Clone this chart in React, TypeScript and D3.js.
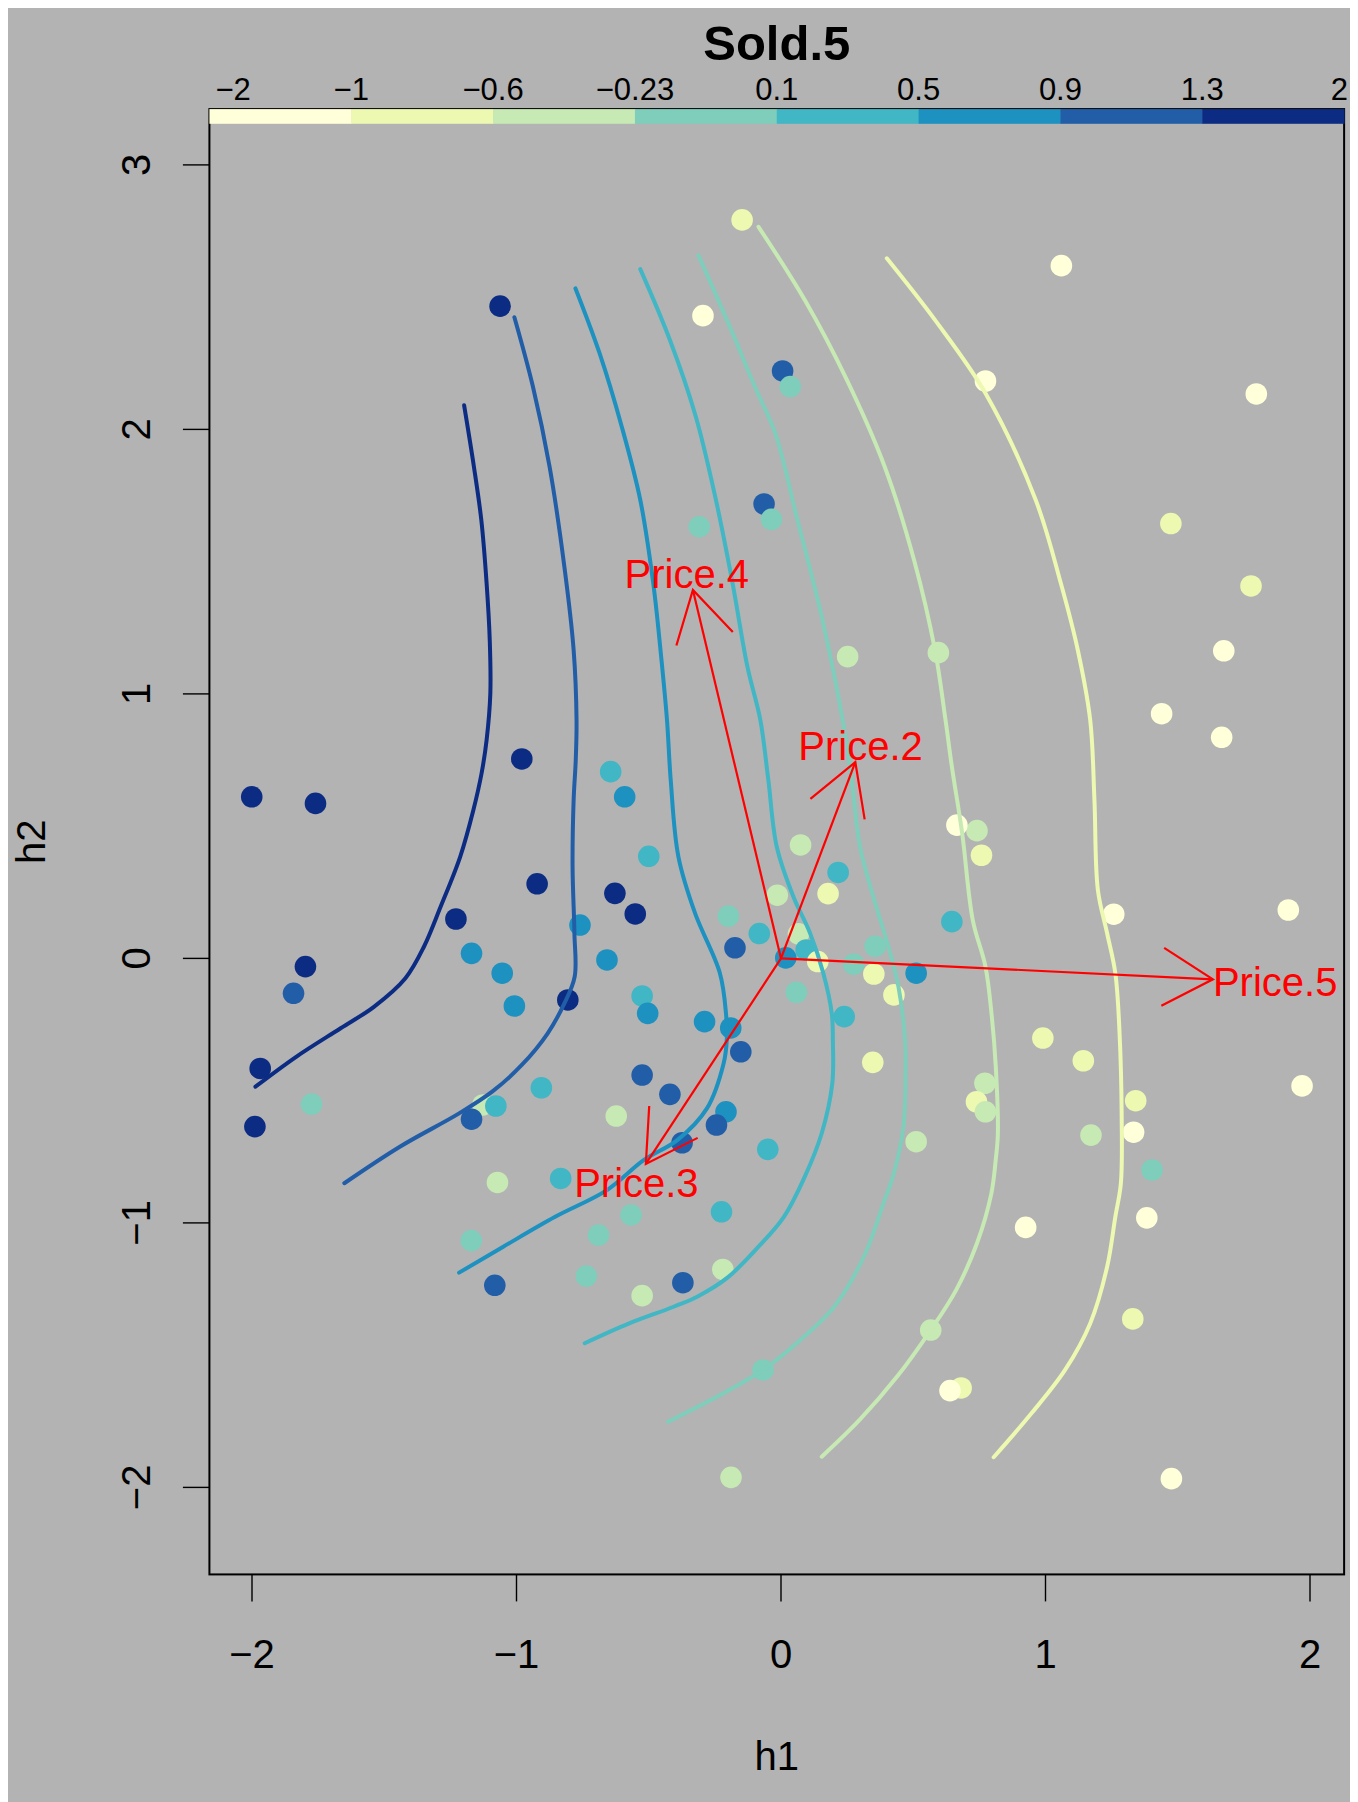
import React from "react";
import * as d3 from "d3";

// ---------- data ----------
const legendBreaks = [-2, -1, -0.6, -0.23, 0.1, 0.5, 0.9, 1.3, 2];
const legendLabels = ["−2", "−1", "−0.6", "−0.23", "0.1", "0.5", "0.9", "1.3", "2"];
const palette = ["#FFFFD9", "#EDF8B1", "#C7E9B4", "#7FCDBB", "#41B6C4", "#1D91C0", "#225EA8", "#0C2C84"];

const xTicks = [-2, -1, 0, 1, 2];
const yTicks = [-2, -1, 0, 1, 2, 3];

// observations: h1, h2 and colour class (1..8) of Sold.5
const h1 = [
  -1.062, -0.147, -0.295, 0.006, 0.035, -0.309, -0.064, -0.036, 1.060, 0.773,
  1.797, 1.474, 1.777, 0.252, 0.595, 1.674, 1.439, -0.980, -2.001, -1.760,
  -0.644, -0.591, -0.500, -0.922, -0.628, -0.551, -1.229, -0.760, -0.199, -0.082,
  -0.174, -1.170, -0.658, -1.798, -1.054, -1.843, -0.806, -0.525, -1.008, -0.504,
  -0.289, -0.190, -0.152, -1.969, -0.525, -0.906, -0.420, -1.775, -1.127, -1.078,
  -0.623, -0.208, -0.244, -1.170, -1.989, -0.374, -0.050, -1.072, -0.833, 1.666,
  0.741, 0.665, 0.758, 0.074, 0.216, 0.178, -0.014, 0.066, 0.095, 0.018,
  0.139, 1.258, 1.918, 0.356, 0.275, 0.351, 0.511, 0.646, 0.058, 0.427,
  0.239, 0.990, 1.143, 0.347, 1.970, 0.771, 0.739, 0.773, 1.341, 1.333,
  1.172, 0.511, 1.403, -0.225, -0.567, -0.690, -1.171, -0.220, -0.736, -1.082,
  -0.371, -0.525, -0.068, -0.189, 0.925, 1.383, 1.330, 0.566, 0.681, 0.639,
  1.476,
];
const h2 = [
  2.466, 2.792, 2.430, 2.221, 2.162, 1.632, 1.718, 1.660, 2.619, 2.183,
  2.134, 1.644, 1.408, 1.141, 1.156, 1.163, 0.925, 0.754, 0.611, 0.586,
  0.706, 0.611, 0.386, 0.282, 0.246, 0.168, 0.149, 0.126, 0.160, 0.094,
  0.040, 0.019, -0.006, -0.031, -0.056, -0.132, -0.157, -0.142, -0.180, -0.208,
  -0.239, -0.263, -0.353, -0.416, -0.441, -0.489, -0.514, -0.551, -0.554, -0.558,
  -0.596, -0.580, -0.630, -0.608, -0.636, -0.697, -0.722, -0.847, -0.832, 0.836,
  0.483, 0.504, 0.390, 0.429, 0.325, 0.245, 0.239, 0.093, 0.032, 0.002,
  -0.012, 0.167, 0.183, 0.046, -0.022, -0.059, -0.056, 0.139, -0.128, -0.138,
  -0.220, -0.301, -0.387, -0.393, -0.482, -0.472, -0.542, -0.580, -0.538, -0.657,
  -0.668, -0.693, -0.800, -0.958, -0.970, -1.046, -1.067, -1.176, -1.201, -1.236,
  -1.226, -1.275, -1.556, -1.962, -1.017, -0.981, -1.363, -1.405, -1.624, -1.634,
  -1.967,
];
const soldClass = [
  8, 2, 1, 7, 4, 4, 7, 4, 1, 1,
  1, 2, 2, 3, 3, 1, 1, 8, 8, 8,
  5, 6, 5, 8, 8, 8, 8, 6, 4, 5,
  7, 6, 6, 8, 6, 7, 8, 5, 6, 6,
  6, 6, 7, 8, 7, 5, 7, 4, 3, 5,
  3, 6, 7, 7, 8, 7, 5, 3, 5, 1,
  3, 1, 2, 3, 5, 2, 3, 3, 5, 6,
  2, 1, 1, 4, 4, 2, 6, 5, 4, 2,
  5, 2, 2, 2, 1, 3, 2, 3, 2, 1,
  3, 3, 4, 5, 4, 4, 4, 3, 4, 7,
  7, 3, 4, 3, 1, 1, 2, 3, 2, 1,
  1,
];

// contour lines of the fitted surface (level, colour class, path)
const contourLevels = [1.3, 0.9, 0.5, 0.1, -0.23, -0.6, -1];
const contourClass = [8, 7, 6, 5, 4, 3, 2];
const contour13: [number, number][] = [
  [-1.198, 2.091], [-1.161, 1.859], [-1.133, 1.657], [-1.113, 1.418], [-1.101, 1.200],
  [-1.099, 1.000], [-1.113, 0.826], [-1.132, 0.700], [-1.163, 0.561], [-1.213, 0.384],
  [-1.287, 0.195], [-1.350, 0.044], [-1.420, -0.075], [-1.539, -0.183], [-1.665, -0.264],
  [-1.833, -0.372], [-1.987, -0.485],
];
const contour09: [number, number][] = [
  [-1.008, 2.424], [-0.938, 2.162], [-0.875, 1.859], [-0.819, 1.481], [-0.784, 1.166],
  [-0.773, 0.901], [-0.776, 0.750], [-0.784, 0.599], [-0.788, 0.347], [-0.781, 0.095],
  [-0.780, -0.069], [-0.819, -0.170], [-0.882, -0.283], [-0.980, -0.403], [-1.092, -0.504],
  [-1.217, -0.586], [-1.441, -0.712], [-1.651, -0.850],
];
const contour05: [number, number][] = [
  [-0.777, 2.533], [-0.686, 2.288], [-0.602, 2.010], [-0.532, 1.733], [-0.483, 1.418],
  [-0.455, 1.160], [-0.431, 0.901], [-0.417, 0.675], [-0.388, 0.385], [-0.325, 0.171],
  [-0.231, -0.056], [-0.208, -0.208], [-0.205, -0.309], [-0.217, -0.397], [-0.280, -0.567],
  [-0.392, -0.687], [-0.518, -0.762], [-0.658, -0.876], [-0.854, -0.977], [-1.050, -1.090],
  [-1.217, -1.188],
];
const contour01: [number, number][] = [
  [-0.532, 2.606], [-0.420, 2.338], [-0.322, 2.048], [-0.246, 1.733], [-0.183, 1.418],
  [-0.127, 1.103], [-0.078, 0.901], [-0.048, 0.675], [-0.016, 0.422], [0.047, 0.233],
  [0.110, 0.095], [0.160, -0.056], [0.192, -0.208], [0.196, -0.309], [0.194, -0.472],
  [0.154, -0.661], [0.090, -0.825], [0.011, -0.977], [-0.085, -1.090], [-0.200, -1.205],
  [-0.315, -1.278], [-0.406, -1.317], [-0.574, -1.380], [-0.742, -1.455],
];
const contourM023: [number, number][] = [
  [-0.312, 2.658], [-0.190, 2.380], [-0.099, 2.162], [-0.020, 1.980], [0.059, 1.670],
  [0.154, 1.292], [0.233, 0.901], [0.267, 0.675], [0.299, 0.422], [0.349, 0.233],
  [0.406, 0.044], [0.444, -0.107], [0.469, -0.309], [0.471, -0.409], [0.463, -0.636],
  [0.423, -0.825], [0.392, -0.913], [0.313, -1.128], [0.201, -1.317], [0.059, -1.455],
  [-0.068, -1.556], [-0.211, -1.640], [-0.427, -1.752],
];
const contourM06: [number, number][] = [
  [-0.085, 2.766], [0.090, 2.489], [0.249, 2.187], [0.392, 1.859], [0.503, 1.506],
  [0.582, 1.166], [0.622, 0.901], [0.646, 0.725], [0.685, 0.473], [0.725, 0.145],
  [0.773, -0.031], [0.797, -0.220], [0.812, -0.409], [0.820, -0.661], [0.812, -0.760],
  [0.795, -0.890], [0.741, -1.077], [0.662, -1.254], [0.566, -1.405], [0.439, -1.581],
  [0.297, -1.745], [0.154, -1.884],
];
const contourM1: [number, number][] = [
  [0.400, 2.647], [0.582, 2.414], [0.773, 2.137], [0.963, 1.733], [1.058, 1.418],
  [1.122, 1.166], [1.169, 0.901], [1.185, 0.599], [1.198, 0.259], [1.233, 0.095],
  [1.264, -0.056], [1.280, -0.283], [1.288, -0.598], [1.285, -0.850], [1.264, -0.977],
  [1.233, -1.166], [1.169, -1.380], [1.074, -1.556], [0.947, -1.720], [0.804, -1.886],
];
const contourPaths = [contour13, contour09, contour05, contour01, contourM023, contourM06, contourM1];

// biplot arrows for the predictors
const arrowNames = ["Price.2", "Price.3", "Price.4", "Price.5"];
const arrowX = [0.281, -0.511, -0.333, 1.633];
const arrowY = [0.742, -0.777, 1.393, -0.079];
const arrowPos = [3, 1, 3, 4];

// ---------- layout ----------
const W = 1358;
const H = 1802;
const unit = 264.5;
const xOrigin = 773;
const yOrigin = 950.4;
const xDomain = [-2.161, 2.129];
const yDomain = [-2.329, 3.211];
const FONT = "'Liberation Sans', Arial, Helvetica, sans-serif";
const BG = "#B3B3B3";

export default function App() {
  const x = d3.scaleLinear().domain(xDomain).range([xOrigin + xDomain[0] * unit, xOrigin + xDomain[1] * unit]);
  const y = d3.scaleLinear().domain(yDomain).range([yOrigin - yDomain[0] * unit, yOrigin - yDomain[1] * unit]);
  const [left, right] = x.range();
  const [bottom, top] = y.range();
  const cx = (left + right) / 2;
  const cy = (top + bottom) / 2;

  const line = d3
    .line<[number, number]>()
    .x((d) => x(d[0]))
    .y((d) => y(d[1]))
    .curve(d3.curveCatmullRom.alpha(0.5));

  const legendScale = d3.scaleBand<number>().domain(d3.range(palette.length)).range([left, right]).paddingInner(0).paddingOuter(0);
  const bw = legendScale.bandwidth();
  const barTop = top;
  const barH = 14.7;

  const headLen = 58;
  const headAng = Math.PI / 6;

  return (
    <svg width={W} height={H} style={{ display: "block" }} fontFamily={FONT}>
      <rect x={0} y={0} width={W} height={H} fill={BG} />

      {/* points */}
      <g>
        {h1.map((v, i) => (
          <circle key={i} cx={x(v)} cy={y(h2[i])} r={10.8} fill={palette[soldClass[i] - 1]} />
        ))}
      </g>

      {/* contours */}
      <g fill="none" strokeWidth={4} strokeLinecap="round" strokeLinejoin="round">
        {contourPaths.map((p, i) => (
          <path key={contourLevels[i]} d={line(p) || ""} stroke={palette[contourClass[i] - 1]} />
        ))}
      </g>

      {/* arrows */}
      <g stroke="#FF0000" strokeWidth={2.2} fill="none">
        {arrowNames.map((name, i) => {
          const tx = x(arrowX[i]);
          const ty = y(arrowY[i]);
          const ox = x(0);
          const oy = y(0);
          const a = Math.atan2(oy - ty, ox - tx);
          const p1 = [tx + headLen * Math.cos(a + headAng), ty + headLen * Math.sin(a + headAng)];
          const p2 = [tx + headLen * Math.cos(a - headAng), ty + headLen * Math.sin(a - headAng)];
          return (
            <g key={name}>
              <line x1={ox} y1={oy} x2={tx} y2={ty} />
              <polyline points={`${p1[0]},${p1[1]} ${tx},${ty} ${p2[0]},${p2[1]}`} />
            </g>
          );
        })}
      </g>
      <g fill="#FF0000" fontSize={40}>
        {arrowNames.map((name, i) => {
          const pos = arrowPos[i];
          const lx = pos === 4 ? x(arrowX[i]) : x(arrowX[i] * 1.07);
          const ty = y(arrowY[i]);
          const ly = pos === 3 ? ty - 2 : pos === 1 ? ty + 33 : ty + 17;
          return (
            <text key={name} x={lx} y={ly} textAnchor={pos === 4 ? "start" : "middle"}>
              {name}
            </text>
          );
        })}
      </g>

      {/* box */}
      <rect x={left} y={top} width={right - left} height={bottom - top} fill="none" stroke="#000" strokeWidth={2} />

      {/* colour legend bar */}
      <g>
        {palette.map((c, i) => (
          <rect key={c} x={legendScale(i)} y={barTop} width={bw + 0.5} height={barH} fill={c} />
        ))}
        {legendLabels.map((lab, i) => {
          const bx = left + i * bw;
          const first = i === 0;
          const last = i === legendLabels.length - 1;
          return (
            <text
              key={lab}
              x={first ? bx + 6 : last ? bx + 4 : bx}
              y={92}
              fontSize={31}
              textAnchor={first ? "start" : last ? "end" : "middle"}
            >
              {lab}
            </text>
          );
        })}
      </g>

      {/* title */}
      <text x={cx} y={52} fontSize={49} fontWeight="bold" textAnchor="middle">
        Sold.5
      </text>

      {/* x axis */}
      <g stroke="#000" strokeWidth={1.4}>
        {xTicks.map((t) => (
          <line key={t} x1={x(t)} x2={x(t)} y1={bottom} y2={bottom + 27} />
        ))}
      </g>
      <g fontSize={40} textAnchor="middle">
        {xTicks.map((t) => (
          <text key={t} x={x(t)} y={1660}>
            {t < 0 ? `−${Math.abs(t)}` : `${t}`}
          </text>
        ))}
      </g>
      <text x={cx} y={1762} fontSize={40} textAnchor="middle">
        h1
      </text>

      {/* y axis */}
      <g stroke="#000" strokeWidth={1.4}>
        {yTicks.map((t) => (
          <line key={t} x1={left - 26.5} x2={left} y1={y(t)} y2={y(t)} />
        ))}
      </g>
      <g fontSize={40} textAnchor="middle">
        {yTicks.map((t) => (
          <text key={t} transform={`translate(142,${y(t)}) rotate(-90)`}>
            {t < 0 ? `−${Math.abs(t)}` : `${t}`}
          </text>
        ))}
      </g>
      <text transform={`translate(37,${cy}) rotate(-90)`} fontSize={40} textAnchor="middle">
        h2
      </text>
    </svg>
  );
}
